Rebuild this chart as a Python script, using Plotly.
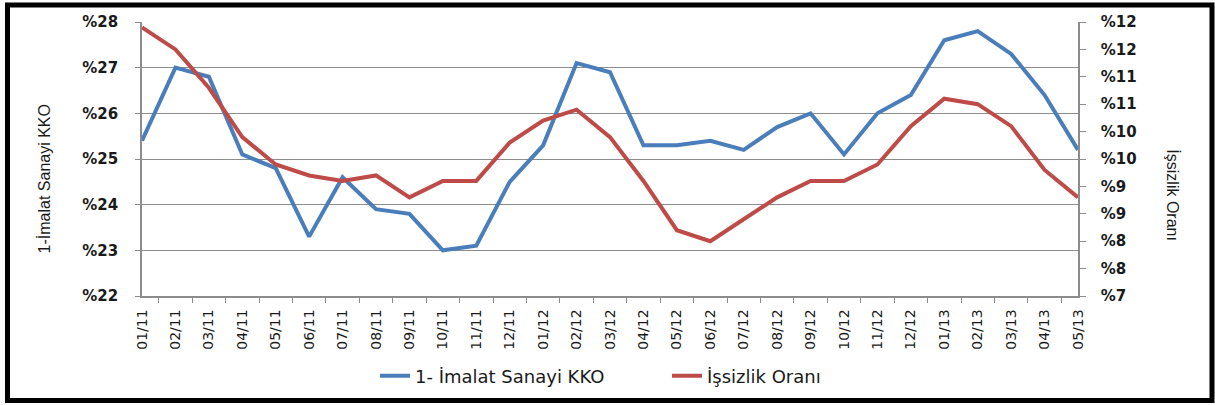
import plotly.graph_objects as go
import math

months = ["01/11", "02/11", "03/11", "04/11", "05/11", "06/11", "07/11", "08/11", "09/11",
          "10/11", "11/11", "12/11", "01/12", "02/12", "03/12", "04/12", "05/12", "06/12",
          "07/12", "08/12", "09/12", "10/12", "11/12", "12/12", "01/13", "02/13", "03/13",
          "04/13", "05/13"]
imalat_kko = [25.4, 27.0, 26.8, 25.1, 24.8, 23.3, 24.6, 23.9, 23.8,
              23.0, 23.1, 24.5, 25.3, 27.1, 26.9, 25.3, 25.3, 25.4,
              25.2, 25.7, 26.0, 25.1, 26.0, 26.4, 27.6, 27.8, 27.3,
              26.4, 25.2]
issizlik = [11.9, 11.5, 10.8, 9.9, 9.4, 9.2, 9.1, 9.2, 8.8,
            9.1, 9.1, 9.8, 10.2, 10.4, 9.9, 9.1, 8.2, 8.0,
            8.4, 8.8, 9.1, 9.1, 9.4, 10.1, 10.6, 10.5, 10.1,
            9.3, 8.8]
left_ticks = [22, 23, 24, 25, 26, 27, 28]
right_ticks = [7, 7.5, 8, 8.5, 9, 9.5, 10, 10.5, 11, 11.5, 12]
right_ticktext = ["%" + str(int(math.floor(v + 0.5))) for v in right_ticks]

W, H = 1215, 405
ML, MR, MT, MB = 142, 137, 22, 108
PW, PH = W - ML - MR, H - MT - MB


def px(x):
    return (x - ML) / PW


def py(y):
    return 1 - (y - MT) / PH


BLUE = "#4A7EBB"
RED = "#BE4B48"
GRID = "#8C8C8C"
TXT = "#1a1a1a"
FONT = "DejaVu Sans"

fig = go.Figure()
fig.add_trace(go.Scatter(x=months, y=imalat_kko, name="1- İmalat Sanayi KKO",
                         mode="lines", line=dict(color=BLUE, width=4), yaxis="y",
                         legend="legend"))
fig.add_trace(go.Scatter(x=months, y=issizlik, name="İşsizlik Oranı",
                         mode="lines", line=dict(color=RED, width=4), yaxis="y2",
                         legend="legend2"))

leg_common = dict(orientation="h", yanchor="middle", xanchor="left",
                  font=dict(family=FONT, size=18, color=TXT),
                  bgcolor="rgba(0,0,0,0)", borderwidth=0)

fig.update_layout(
    width=W, height=H,
    margin=dict(l=ML, r=MR, t=MT, b=MB),
    paper_bgcolor="white", plot_bgcolor="white",
    font=dict(family=FONT, color=TXT),
    showlegend=True,
    legend=dict(x=px(375), y=py(376), **leg_common),
    legend2=dict(x=px(667), y=py(376), **leg_common),
    xaxis=dict(type="category", tickangle=-90, tickson="boundaries", ticks="outside",
               ticklen=5, tickcolor=GRID, showline=True, linecolor=GRID, linewidth=1.5,
               showgrid=False, tickfont=dict(family=FONT, size=14, color=TXT),
               ticklabelstandoff=6),
    yaxis=dict(range=[22, 28], tickvals=left_ticks,
               ticktext=["%" + str(v) for v in left_ticks],
               ticks="outside", ticklen=5, tickcolor=GRID, showline=True,
               linecolor=GRID, linewidth=1.5, showgrid=True, gridcolor=GRID, gridwidth=1,
               zeroline=False, tickfont=dict(family=FONT, size=15, color=TXT, weight="bold"),
               ticklabelstandoff=14),
    yaxis2=dict(range=[7, 12], overlaying="y", side="right", tickvals=right_ticks,
                ticktext=right_ticktext, ticks="outside", ticklen=6, tickcolor=GRID,
                showline=True, linecolor=GRID, linewidth=1.5, showgrid=False,
                zeroline=False, tickfont=dict(family=FONT, size=15, color=TXT, weight="bold"),
                ticklabelstandoff=12),
    annotations=[
        dict(text="1-İmalat Sanayi KKO", xref="paper", yref="paper", x=px(44), y=py(180),
             xanchor="center", yanchor="middle", textangle=-90, showarrow=False,
             font=dict(family="Liberation Sans", size=16, color=TXT)),
        dict(text="İşsizlik Oranı", xref="paper", yref="paper", x=px(1173), y=py(196),
             xanchor="center", yanchor="middle", textangle=90, showarrow=False,
             font=dict(family="Liberation Sans", size=16, color=TXT)),
    ],
    shapes=[
        dict(type="rect", xref="paper", yref="paper", x0=px(7.5), x1=px(1212),
             y0=py(402), y1=py(5), line=dict(color="black", width=5),
             fillcolor="rgba(0,0,0,0)", layer="above"),
    ],
)

fig.write_html("out.html", config={"displayModeBar": False},
               post_script="document.body.style.margin='0px';document.body.style.overflow='hidden';")
